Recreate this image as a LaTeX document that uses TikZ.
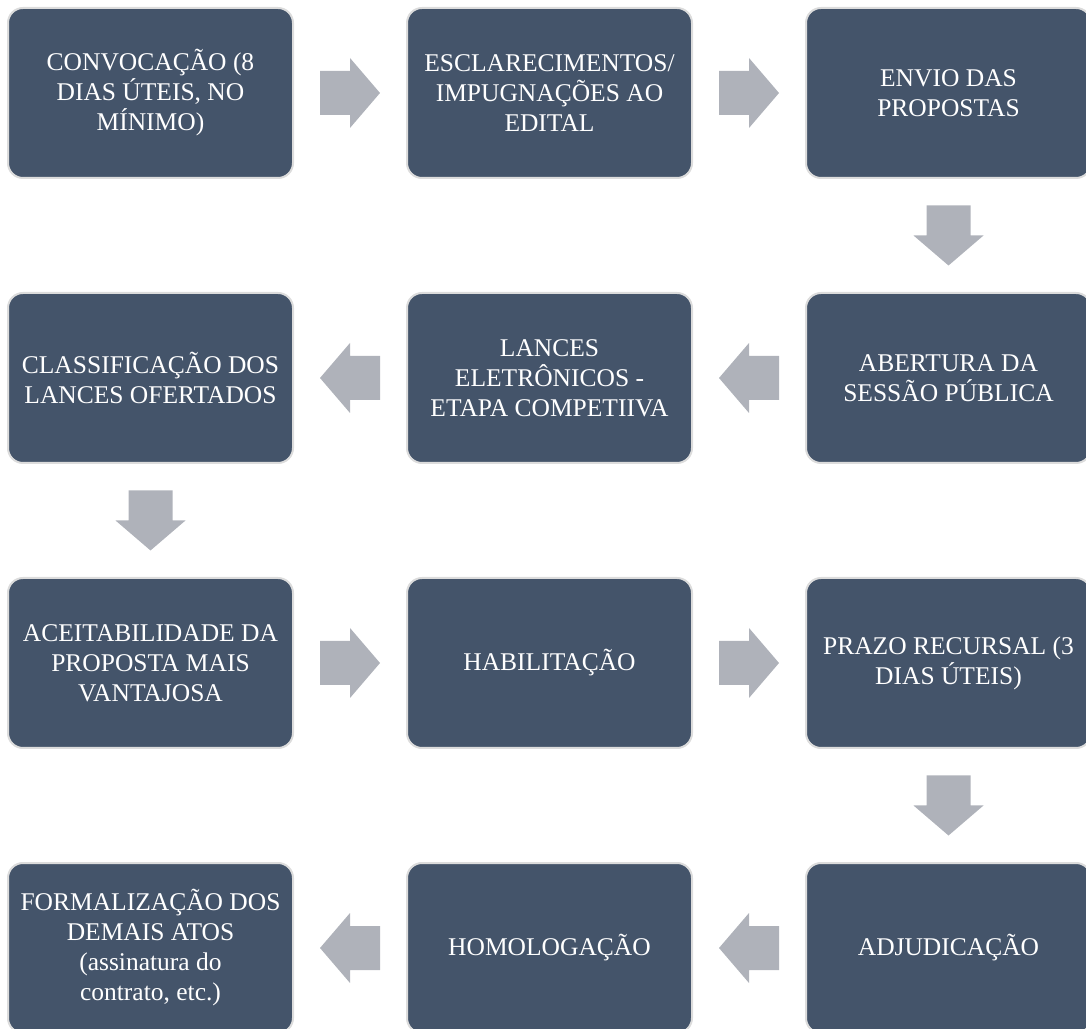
\documentclass[tikz,border=0pt]{standalone}
\usepackage{fontspec}
\setmainfont{Liberation Serif}
\usetikzlibrary{positioning,calc}
\definecolor{boxblue}{HTML}{44546A}
\definecolor{boxline}{HTML}{DCDCDC}
\definecolor{arrowgray}{HTML}{AFB2BA}
\tikzstyle{etapa} = [rectangle, rounded corners=15pt, fill=boxblue, draw=boxline, line width=2pt,
  minimum width=285pt, minimum height=170pt, inner sep=4pt, text=white, align=center,
  font=\fontsize{25.5}{30}\selectfont]
\tikzset{seta/.pic={\fill[arrowgray] (-30pt,-22pt) -- (0pt,-22pt) -- (0pt,-35pt) -- (30pt,0pt)
  -- (0pt,35pt) -- (0pt,22pt) -- (-30pt,22pt) -- cycle;}}

\begin{document}
\begin{tikzpicture}[x=1pt,y=1pt]
\useasboundingbox (0,0) rectangle (1086,1028);
\clip (0,0) rectangle (1086,1028);
% linha 1
\node[etapa] (conv) at (150.5,935) {CONVOCAÇÃO (8\\DIAS ÚTEIS, NO\\MÍNIMO)};
\node[etapa, right=112pt of conv] (escl) {ESCLARECIMENTOS/\\IMPUGNAÇÕES AO\\EDITAL};
\node[etapa, right=112pt of escl] (envio) {ENVIO DAS\\PROPOSTAS};
% linha 2
\node[etapa, below=113pt of envio] (abert) {ABERTURA DA\\SESSÃO PÚBLICA};
\node[etapa, left=112pt of abert] (lances) {LANCES\\ELETRÔNICOS -\\ETAPA COMPETIIVA};
\node[etapa, left=112pt of lances] (class) {CLASSIFICAÇÃO DOS\\LANCES OFERTADOS};
% linha 3
\node[etapa, below=113pt of class] (aceit) {ACEITABILIDADE DA\\PROPOSTA MAIS\\VANTAJOSA};
\node[etapa, right=112pt of aceit] (habil) {HABILITAÇÃO};
\node[etapa, right=112pt of habil] (prazo) {PRAZO RECURSAL (3\\DIAS ÚTEIS)};
% linha 4
\node[etapa, below=113pt of prazo] (adjud) {ADJUDICAÇÃO};
\node[etapa, left=112pt of adjud] (homol) {HOMOLOGAÇÃO};
\node[etapa, left=112pt of homol] (formal) {FORMALIZAÇÃO DOS\\DEMAIS ATOS\\(assinatura do\\contrato, etc.)};
% setas
\pic at ($(conv)!.5!(escl)$) {seta};
\pic at ($(escl)!.5!(envio)$) {seta};
\pic[rotate=-90] at ($(envio)!.5!(abert)$) {seta};
\pic[rotate=180] at ($(abert)!.5!(lances)$) {seta};
\pic[rotate=180] at ($(lances)!.5!(class)$) {seta};
\pic[rotate=-90] at ($(class)!.5!(aceit)$) {seta};
\pic at ($(aceit)!.5!(habil)$) {seta};
\pic at ($(habil)!.5!(prazo)$) {seta};
\pic[rotate=-90] at ($(prazo)!.5!(adjud)$) {seta};
\pic[rotate=180] at ($(adjud)!.5!(homol)$) {seta};
\pic[rotate=180] at ($(homol)!.5!(formal)$) {seta};
\end{tikzpicture}
\end{document}
